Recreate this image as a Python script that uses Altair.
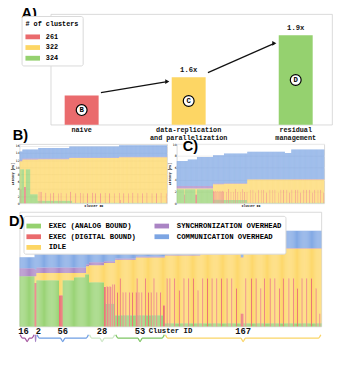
import altair as alt
import numpy as np
import pandas as pd

MONO = "Liberation Mono"
SANS = "Liberation Sans"
TICKF = "DejaVu Sans"

# ---------------- Panel A : performance per strategy ----------------
A_strategy = ["naive", "data-replication\nand parallelization", "residual\nmanagement"]
A_position = [0, 1, 2]
A_tops = [6.6, 10.7, 20.2]
A_clusters = ["261", "322", "324"]
A_speedup = ["", "1.6x", "1.9x"]
A_marker = ["B", "C", "D"]
CLUSTER_COLORS = ["#ea6b6d", "#fdd664", "#95d16f"]

# ---------------- latency breakdown categories ----------------
CATS = ["EXEC (ANALOG BOUND)", "EXEC (DIGITAL BOUND)", "IDLE",
        "SYNCHRONIZATION OVERHEAD", "COMMUNICATION OVERHEAD"]
CAT_COLORS = ["#95d16f", "#ea6b6d", "#fdd664", "#aa84c4", "#7da5e3"]

# ---------------- Panel B (naive, 261 clusters) ----------------
B_green_counts = [19, 13, 61, 168]
B_green_levels = [9.5, 2.5, 0.7, 0.15]
B_red_spikes = [(2, 3.9), (8, 4.5), (9, 4.5), (10, 4.5), (34, 3.2), (36, 3.2), (38, 3.2),
                (46, 2.9), (54, 2.8), (60, 2.9), (68, 2.8), (73, 2.9), (82, 2.8), (90, 3.2),
                (99, 2.8), (107, 2.9), (112, 2.8), (120, 2.8), (129, 2.9), (134, 2.8),
                (143, 2.8), (151, 2.9), (159, 2.8), (167, 2.8), (176, 2.9), (178, 1.0),
                (184, 2.8), (192, 2.8), (200, 2.9), (209, 2.8), (217, 2.8), (225, 2.9),
                (234, 2.8), (242, 2.8), (250, 2.9), (259, 2.8)]
B_level_counts = [5, 28, 55, 88, 85]
B_idle_top = [11.7, 12.2, 12.3, 12.6, 12.8]
B_sync_top = [12.0, 12.45, 12.5, 12.75, 12.95]
B_comm_top = [14.4, 15.0, 15.4, 15.8, 16.2]

# ---------------- Panel C (data replication, 322 clusters) ----------------
C_green_counts = [79, 24, 51, 168]
C_green_levels = [2.35, 0.6, 0.55, 0.1]
C_red_spikes = [(17, 1.5), (41, 1.5), (42, 1.5), (43, 1.5), (79, 2.0), (80, 2.1), (82, 2.0),
                (84, 2.1), (86, 2.0), (88, 2.1), (90, 2.0), (92, 2.0), (94, 2.1), (96, 2.0),
                (98, 2.0), (100, 2.1), (102, 2.0), (108, 1.9), (113, 2.4), (118, 1.9),
                (123, 1.9), (128, 2.4), (133, 1.9), (138, 1.9), (143, 2.4), (148, 1.9),
                (153, 1.9), (160, 2.3), (166, 2.3), (171, 1.8), (178, 2.3), (184, 2.3),
                (189, 2.3), (196, 1.8), (203, 2.3), (208, 2.3), (214, 2.3), (221, 1.8),
                (227, 2.3), (233, 2.3), (240, 2.3), (246, 1.8), (251, 2.3), (259, 2.3),
                (264, 2.3), (270, 1.8), (277, 2.3), (283, 2.3), (290, 2.3), (296, 1.8),
                (301, 2.3), (308, 2.3), (314, 2.3), (320, 1.8)]
C_level_counts = [24, 20, 35, 24, 51, 82, 14, 72]
C_idle_top = [2.5, 2.5, 2.5, 3.2, 3.3, 4.0, 4.0, 4.0]
C_sync_top = [2.9, 2.9, 2.9, 3.35, 3.4, 4.05, 4.05, 4.1]
C_comm_top = [7.15, 7.4, 7.8, 8.1, 8.4, 8.7, 8.5, 9.1]

# ---------------- Panel D (residual management) ----------------
D_green_counts = [16, 2, 40, 12, 4, 16, 12, 53, 167]
D_green_levels = [2.5, 2.2, 2.3, 2.45, 2.6, 2.2, 1.13, 0.56, 0.16]
D_red_spikes = [(16, 2.17), (17, 2.17), (42, 1.55), (43, 1.55), (44, 1.55), (45, 1.55),
                (90, 1.98), (91, 1.98), (93, 2.0), (94, 1.98), (96, 2.0), (97, 1.98),
                (99, 2.1), (101, 2.1),
                (104, 1.7), (107, 2.4), (110, 1.7), (113, 1.7), (117, 1.7), (120, 1.7),
                (124, 1.7), (125, 2.4), (127, 1.7), (130, 1.7), (134, 2.4), (137, 1.7),
                (140, 1.7), (143, 2.4), (146, 1.7), (150, 1.7), (153, 1.05), (154, 1.05),
                (157, 2.4), (160, 2.4), (165, 2.4), (170, 1.8), (175, 2.4), (180, 2.4),
                (185, 2.4), (190, 1.8), (195, 2.4), (200, 2.4), (205, 2.4), (210, 2.4),
                (215, 2.4), (221, 2.4), (226, 2.4), (231, 1.9), (236, 0.65), (237, 0.65),
                (238, 0.65), (241, 2.4), (247, 2.4), (252, 2.4), (257, 1.9), (261, 2.4),
                (267, 2.4), (272, 2.4), (277, 1.9), (281, 2.4), (287, 2.4), (292, 2.4),
                (296, 1.9), (301, 2.4), (306, 2.4), (311, 2.4), (316, 1.9), (320, 0.65)]
D_level_counts = [16, 2, 25, 28, 3, 16, 12, 22, 10, 21, 38, 43, 3, 27, 14, 42]
D_idle_top = [2.5, 2.5, 2.66, 2.66, 3.0, 3.05, 3.16, 3.32, 3.43, 3.43, 3.53, 3.6, 3.43, 3.79, 3.79, 3.88]
D_sync_top = [2.9, 2.85, 2.93, 2.93, 3.1, 3.2, 3.25, 3.38, 3.48, 3.48, 3.56, 3.63, 3.46, 3.82, 3.82, 3.91]
D_comm_top = [3.45, 3.65, 3.67, 3.77, 3.95, 3.96, 4.05, 4.17, 4.17, 4.28, 4.36, 4.49, 4.23, 4.49, 4.44, 4.76]
D_group_counts = [16, 2, 56, 28, 53, 167]
D_group_colors = ["#a5579f", "#a684c7", "#6f9ee3", "#cde7c6", "#7dc563", "#fad567"]
D_label_shift = [-4, 3, 0, 0, 0, 0]


def runs(counts, levels, n=None):
    arr = np.repeat(np.asarray(levels, float), counts)
    if n is not None and len(arr) < n:
        arr = np.pad(arr, (0, n - len(arr)), mode="edge")
    return arr


def stack_table(green_counts, green_levels, red_spikes, level_counts, idle_top, sync_top, comm_top):
    exec_h = runs(green_counts, green_levels)
    n = len(exec_h)
    kind = ["EXEC (ANALOG BOUND)"] * n
    for i, lv in red_spikes:
        if i < n:
            exec_h[i] = lv
            kind[i] = "EXEC (DIGITAL BOUND)"
    it = runs(level_counts, idle_top, n)
    st = runs(level_counts, sync_top, n)
    ct = runs(level_counts, comm_top, n)
    rows = []
    for i in range(n):
        e = float(exec_h[i])
        a = float(max(it[i], e))
        b = float(max(st[i], a))
        c = float(max(ct[i], b))
        for cat, lo, hi in [(kind[i], 0.0, e), ("IDLE", e, a),
                            ("SYNCHRONIZATION OVERHEAD", a, b), ("COMMUNICATION OVERHEAD", b, c)]:
            if hi > lo:
                rows.append({"idx": i, "idx1": i + 1, "cat": cat, "y0": lo, "y1": hi})
    return pd.DataFrame(rows), n


def stacked(df, n, ymax, yvals, small, legend):
    if small:
        xaxis = alt.Axis(title="Cluster ID", labels=False, ticks=False, domain=False, grid=False,
                         titleFontSize=3.2, titleFont=MONO, titleFontWeight="bold", titlePadding=0.5)
        yaxis = alt.Axis(values=yvals, title="Latency [ms]", labelFontSize=3.2, labelFont=TICKF,
                         titleFontSize=3.2, titleFont=MONO, titleFontWeight="bold", ticks=False,
                         domain=False, labelPadding=0.5, titlePadding=0.5, gridColor="#ececec")
    else:
        xaxis = None
        yaxis = alt.Axis(values=yvals, title="Latency [ms]", labelFontSize=7, labelFont=TICKF,
                         titleFontSize=5.5, titleFont=MONO, titleFontWeight="bold", ticks=False,
                         domain=False, labelPadding=1, titlePadding=0, gridColor="#ececec")
    return alt.Chart(df).mark_rect().encode(
        x=alt.X("idx:Q", scale=alt.Scale(domain=[0, n], nice=False, zero=False), axis=xaxis),
        x2="idx1:Q",
        y=alt.Y("y0:Q", scale=alt.Scale(domain=[0, ymax], nice=False, zero=False), axis=yaxis),
        y2="y1:Q",
        color=alt.Color("cat:N", scale=alt.Scale(domain=CATS, range=CAT_COLORS), legend=legend),
    )


def panel_title(txt, dx, offset=0):
    return alt.TitleParams(txt, anchor="start", frame="group", dx=dx, offset=offset, fontSize=15,
                           font=SANS, fontWeight="bold", color="black")


RECT_PATH = "M-1,-0.33H1V0.33H-1Z"

# ---------------- Panel A chart ----------------
AW, AH = 290, 114
A_xdom = [-0.244, 2.294]
A_df = pd.DataFrame({"pos": A_position, "tops": A_tops, "clusters": A_clusters,
                     "speedup": A_speedup, "marker": A_marker, "strategy": A_strategy})
A_df["mid"] = A_df["tops"] / 2

arr = pd.DataFrame({
    "pos": [p + 0.18 for p in A_position[:-1]],
    "pos2": [p - 0.2 for p in A_position[1:]],
    "tops": [t * 1.1 for t in A_tops[:-1]],
    "tops2": [t * 0.91 for t in A_tops[1:]],
})

xA = alt.X("pos:Q", scale=alt.Scale(domain=A_xdom, nice=False, zero=False), axis=None)
yA = alt.Y("tops:Q", scale=alt.Scale(domain=[0, 25], nice=False),
           axis=alt.Axis(values=[0, 5, 10, 15, 20, 25], title="Performance [TOPS]",
                         labelFontSize=6, labelFont=TICKF, titleFontSize=7, titleFont=MONO,
                         titleFontWeight="bold", ticks=False, domain=False, labelPadding=3,
                         titlePadding=2, gridColor="#ececec"))

baseA = alt.Chart(A_df)
bars = baseA.mark_bar(size=35).encode(
    x=xA, y=yA,
    color=alt.Color("clusters:N", scale=alt.Scale(domain=A_clusters, range=CLUSTER_COLORS),
                    legend=alt.Legend(title="# of clusters", orient="top-left", offset=2,
                                      titleFont=MONO, titleFontSize=7, titleFontWeight="bold",
                                      labelFont=MONO, labelFontSize=7, labelFontWeight="bold",
                                      symbolType=RECT_PATH, symbolSize=225, symbolStrokeWidth=0,
                                      fillColor="white", strokeColor="#d9d9d9", padding=4,
                                      cornerRadius=2, rowPadding=0, labelOffset=6,
                                      titlePadding=3)))
arrows = alt.Chart(arr).mark_rule(color="#111111", strokeWidth=1.2).encode(
    x=xA, x2="pos2:Q", y=yA, y2="tops2:Q")
heads = alt.Chart(arr).mark_point(shape="triangle-right", filled=True, size=24, color="#111111",
                                  opacity=1).encode(
    x=alt.X("pos2:Q", scale=alt.Scale(domain=A_xdom, nice=False, zero=False), axis=None),
    y=alt.Y("tops2:Q", axis=None))
speed = baseA.mark_text(dy=-3, baseline="bottom", font=MONO, fontSize=7.4, fontWeight="bold",
                        color="#111111").encode(x=xA, y=yA, text="speedup:N")
circles = baseA.mark_circle(size=125, fill="white", stroke="black", strokeWidth=1.2, opacity=1).encode(
    x=xA, y=alt.Y("mid:Q", axis=None))
letters = baseA.mark_text(font=MONO, fontSize=7.5, fontWeight="bold", color="black").encode(
    x=xA, y=alt.Y("mid:Q", axis=None), text="marker:N")
cats = baseA.mark_text(baseline="top", lineBreak="\n", font=MONO, fontSize=7, fontWeight="bold",
                       color="#111111", lineHeight=8).encode(
    x=xA, y=alt.value(AH + 1.5), text="strategy:N")

chartA = alt.layer(bars, arrows, heads, speed, circles, letters, cats).properties(
    width=AW, height=AH, title=panel_title("A)", dx=-30, offset=-7))

spacerA = alt.Chart(pd.DataFrame({"s": [0]})).mark_point(opacity=0).encode(
    x=alt.X("s:Q", axis=None), y=alt.Y("s:Q", axis=None)
).properties(width=28, height=10, view=alt.ViewBackground(strokeOpacity=0))

# ---------------- Panels B, C ----------------
B_df, B_n = stack_table(B_green_counts, B_green_levels, B_red_spikes, B_level_counts,
                        B_idle_top, B_sync_top, B_comm_top)
C_df, C_n = stack_table(C_green_counts, C_green_levels, C_red_spikes, C_level_counts,
                        C_idle_top, C_sync_top, C_comm_top)
chartB = stacked(B_df, B_n, 16.5, list(range(0, 17, 2)), True, None).properties(
    width=152, height=61, title=panel_title("B)", dx=-7, offset=1))
chartC = stacked(C_df, C_n, 10, list(range(0, 11, 2)), True, None).properties(
    width=152, height=61, title=panel_title("C)", dx=6, offset=-12))

# ---------------- Panel D ----------------
DW, DH = 311, 118
D_YMAX = 5.7
D_df, D_n = stack_table(D_green_counts, D_green_levels, D_red_spikes, D_level_counts,
                        D_idle_top, D_sync_top, D_comm_top)
legD = alt.Legend(title=None, orient="top-left", offset=4, columns=2, columnPadding=18,
                  rowPadding=0, labelFont=MONO, labelFontSize=7.5, labelFontWeight="bold",
                  symbolType=RECT_PATH, symbolSize=225, symbolStrokeWidth=0, labelOffset=8,
                  fillColor="white", strokeColor="#d9d9d9", padding=3, cornerRadius=2,
                  labelLimit=200)
rectD = stacked(D_df, D_n, D_YMAX, [0, 1, 2, 3, 4, 5], False, legD)

BRACE_PX = [8.5, 12, 15.5]
to_units = D_YMAX / DH
br_rows, lab_rows = [], []
start = 0
for g, (cnt, col) in enumerate(zip(D_group_counts, D_group_colors)):
    s, e = start + 0.6, start + cnt - 0.6
    m = (s + e) / 2
    d = min(2.5, (e - s) / 4)
    pts = [(s, 0), (s + d, 1), (m - d, 1), (m, 2), (m + d, 1), (e - d, 1), (e, 0)]
    for k, (bx, lvl) in enumerate(pts):
        br_rows.append({"g": g, "k": k, "idx": float(bx), "y0": -BRACE_PX[lvl] * to_units, "col": col})
    lab_rows.append({"idx": start + cnt / 2 + D_label_shift[g], "lab": str(cnt)})
    start += cnt
br_df = pd.DataFrame(br_rows)
lab_df = pd.DataFrame(lab_rows)

braces = alt.Chart(br_df).mark_line(interpolate="monotone", strokeWidth=1.3).encode(
    x=alt.X("idx:Q", axis=None), y=alt.Y("y0:Q", axis=None),
    stroke=alt.Stroke("col:N", scale=None),
    detail="g:N", order="k:Q")
glabels = alt.Chart(lab_df).mark_text(baseline="top", font=MONO, fontSize=9, fontWeight="bold",
                                      color="#111111").encode(
    x=alt.X("idx:Q", axis=None), y=alt.value(DH + 0.5), text="lab:N")
ctitle = alt.Chart(pd.DataFrame({"idx": [D_n / 2], "t": ["Cluster ID"]})).mark_text(
    baseline="top", font=MONO, fontSize=7.5, fontWeight="bold", color="#111111").encode(
    x=alt.X("idx:Q", axis=None), y=alt.value(DH + 0.5), text="t:N")

chartD = alt.layer(rectD, braces, glabels, ctitle).properties(
    width=DW, height=DH, title=panel_title("D)", dx=-11, offset=-17))

rowA = alt.hconcat(spacerA, chartA, spacing=4, bounds="flush")
rowBC = alt.hconcat(chartB, chartC, spacing=10, bounds="flush")
top = alt.vconcat(rowA, rowBC, spacing=-14).resolve_scale(color="independent")
chart = alt.vconcat(top, chartD, spacing=3).resolve_scale(color="independent").properties(
    padding={"left": 0, "top": -8, "right": 0, "bottom": 0}).configure_view(
    stroke="#cfcfcf", strokeWidth=0.8)

chart.save("out.html", embed_options={"renderer": "svg", "actions": False})
